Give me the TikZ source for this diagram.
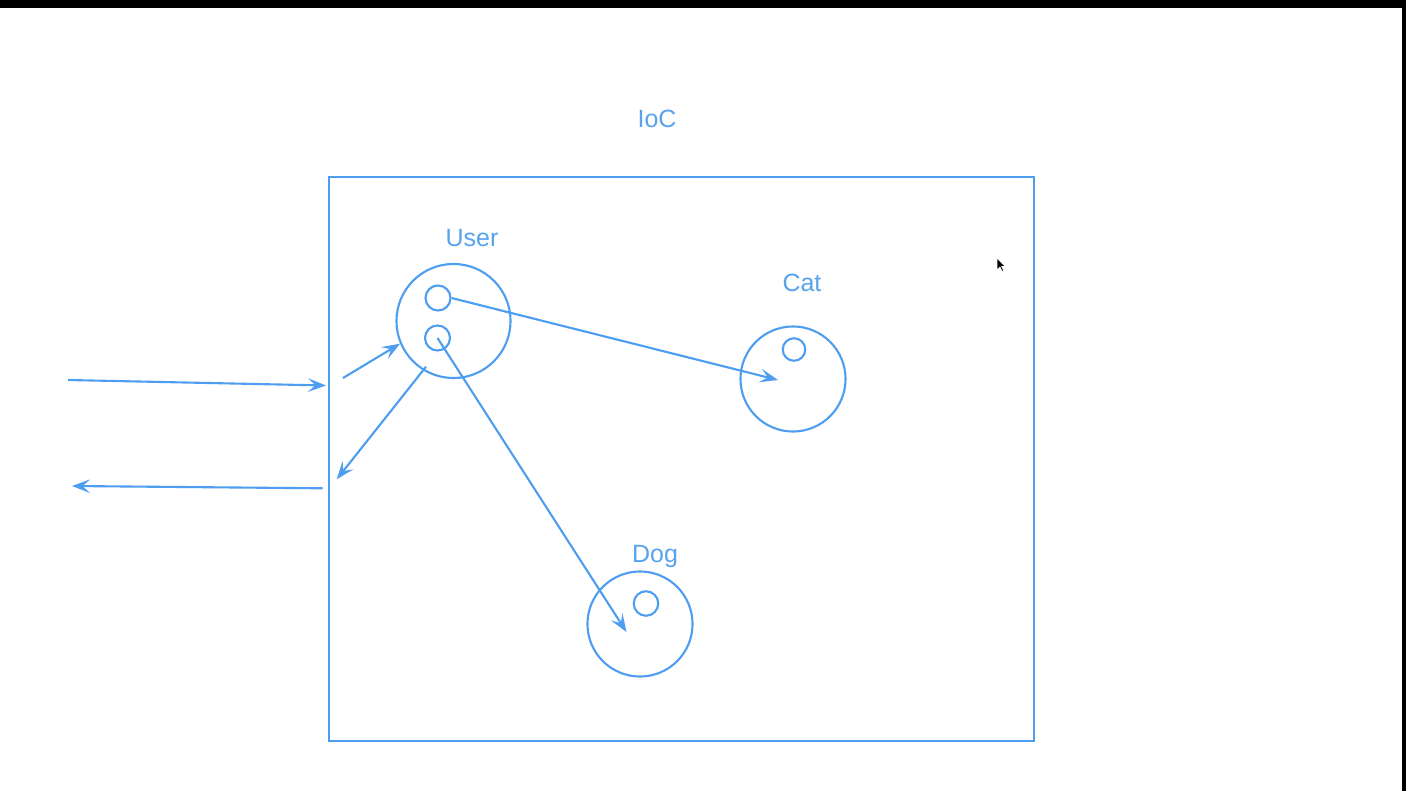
\documentclass[tikz,border=0pt]{standalone}
\usepackage{fontspec}
\setmainfont{Liberation Sans}
\usetikzlibrary{arrows.meta,shapes.geometric}
\definecolor{lblue}{RGB}{77,157,240}
\definecolor{tblue}{RGB}{88,163,238}
\tikzset{
  arr/.style={draw=lblue, line width=0.6pt, -{Stealth[length=0.18cm,width=0.135cm,inset=0.075cm]}},
  bigc/.style={circle, draw=lblue, line width=0.6pt, inner sep=0pt},
  smallc/.style={circle, draw=lblue, line width=0.6pt, inner sep=0pt, minimum size=0.24cm},
  lbl/.style={text=tblue, font=\fontsize{7.1pt}{8.5pt}\selectfont, anchor=base, inner sep=0pt},
}
\begin{document}
\begin{tikzpicture}[x=0.01cm,y=-0.01cm]
\useasboundingbox (0,0) rectangle (1406,791);
\fill[white] (0,0) rectangle (1406,791);
\fill[black] (0,0) rectangle (1406,8);
\fill[black] (1402,0) rectangle (1406,791);
% container
\node[draw=lblue, line width=0.6pt, minimum width=7.05cm, minimum height=5.64cm, inner sep=0pt] (box) at (681.5,459) {};
\node[lbl] (ioc) at (657,127.5) {IoC};
% beans
\node[bigc, minimum size=1.14cm] (user) at (453.5,321) {};
\node[smallc, minimum size=0.25cm] (u1) at (438,298) {};
\node[smallc, minimum size=0.25cm] (u2) at (437.5,338) {};
\node[lbl] (userl) at (472,246) {User};
\node[bigc, minimum size=1.05cm] (cat) at (793,379) {};
\node[smallc, minimum size=0.225cm] (c1) at (794,349.5) {};
\node[lbl] (catl) at (802,291.7) {Cat};
\node[bigc, minimum size=1.05cm] (dog) at (640,624) {};
\node[smallc, minimum size=0.245cm] (d1) at (646,603.5) {};
\node[lbl] (dogl) at (655,562.7) {Dog};
% coordinates
\coordinate (catin) at (778,380);
\coordinate (dogin) at (626.5,632);
\coordinate (reqin) at (343,378);
\coordinate (resout) at (426,366.7);
\coordinate (restip) at (336.7,479.3);
\coordinate (cl1) at (68,380);
\coordinate (cl1t) at (326,385.5);
\coordinate (cl2) at (322.5,488.3);
\coordinate (cl2t) at (72,486);
% connectors
\draw[arr] (u1.east) -- (catin);
\draw[arr] (u2.center) -- (dogin);
\draw[arr] (reqin) -- (user.203);
\draw[arr] (resout) -- (restip);
\draw[arr] (cl1) -- (cl1t);
\draw[arr] (cl2) -- (cl2t);
% mouse cursor
\fill[black, draw=white, line width=0.2pt, shift={(997,258)}]
  (0,0) -- (0,12) -- (3,9.2) -- (5.2,13.5) -- (6.9,12.8) -- (4.7,8.5) -- (8.4,8.5) -- cycle;
\end{tikzpicture}
\end{document}
